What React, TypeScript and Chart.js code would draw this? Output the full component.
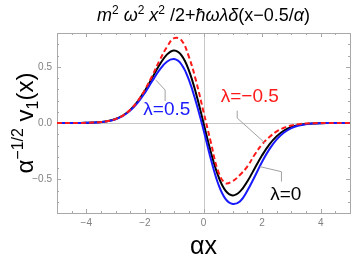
import React, { useEffect, useRef } from "react";
import { Chart, registerables } from "chart.js";
Chart.register(...registerables);

const xValues = [
  -5, -4.75, -4.5, -4.25, -4, -3.75, -3.5, -3.25, -3, -2.75, -2.5, -2.25, -2, -1.75, -1.5, -1.25, -1,
  -0.75, -0.5, -0.25, 0, 0.25, 0.5, 0.75, 1, 1.25, 1.5, 1.75, 2, 2.25, 2.5, 2.75, 3, 3.25, 3.5, 3.75,
  4, 4.25, 4.5, 4.75, 5,
];
// λ = 0
const valuesL0 = [
  0, 0.0001, 0.0002, 0.0005, 0.0014, 0.0035, 0.0081, 0.0175, 0.0354, 0.0666, 0.1167, 0.1902, 0.2875,
  0.402, 0.5172, 0.6079, 0.6443, 0.6014, 0.4687, 0.2574, 0, -0.2574, -0.4687, -0.6014, -0.6443,
  -0.6079, -0.5172, -0.402, -0.2875, -0.1902, -0.1167, -0.0666, -0.0354, -0.0175, -0.0081, -0.0035,
  -0.0014, -0.0005, -0.0002, -0.0001, 0,
];
// λ = 0.5
const valuesLpos = [
  0, 0.0001, 0.0002, 0.0005, 0.0013, 0.0033, 0.0077, 0.0166, 0.0335, 0.063, 0.11, 0.178, 0.268, 0.373,
  0.472, 0.545, 0.568, 0.52, 0.385, 0.18, -0.06, -0.32, -0.54, -0.675, -0.72, -0.695, -0.6, -0.475,
  -0.345, -0.232, -0.145, -0.085, -0.046, -0.023, -0.0105, -0.0045, -0.0017, -0.0006, -0.0002,
  -0.0001, 0,
];
// λ = −0.5
const valuesLneg = [
  0, 0.0001, 0.0002, 0.0005, 0.0014, 0.0035, 0.008, 0.0172, 0.035, 0.066, 0.117, 0.193, 0.295, 0.42,
  0.555, 0.675, 0.755, 0.735, 0.59, 0.37, 0.1, -0.17, -0.43, -0.535, -0.515, -0.46, -0.385, -0.28,
  -0.19, -0.125, -0.075, -0.042, -0.022, -0.01, -0.0045, -0.0018, -0.0006, -0.0002, -0.0001, 0, 0,
];

const xTickValues = [-4, -2, 0, 2, 4];
const xTickLabels = ["−4", "−2", "0", "2", "4"];
const yTickValues = [-0.5, 0, 0.5];
const yTickLabels = ["−0.5", "0.0", "0.5"];
const seriesLabels = ["λ=0", "λ=0.5", "λ=−0.5"];

const SANS = '"Liberation Sans", Arial, sans-serif';
const FRAME = "#a8a8a8";
const ZERO = "#c8c8c8";
const LEADER = "#a0a0a0";

type Seg = { t: string; it?: boolean; s?: "sup" | "sub" };

function drawRich(ctx: CanvasRenderingContext2D, segs: Seg[], size: number, x: number, y: number, color: string) {
  const fontFor = (seg: Seg) => `${seg.it ? "italic " : ""}${seg.s ? Math.round(size * 0.65) : size}px ${SANS}`;
  const widths = segs.map((seg) => {
    ctx.font = fontFor(seg);
    return ctx.measureText(seg.t).width;
  });
  const total = widths.reduce((a, b) => a + b, 0);
  let cx = x - total / 2;
  ctx.fillStyle = color;
  ctx.textAlign = "left";
  ctx.textBaseline = "alphabetic";
  segs.forEach((seg, i) => {
    ctx.font = fontFor(seg);
    const dy = seg.s === "sup" ? -size * 0.4 : seg.s === "sub" ? size * 0.22 : 0;
    ctx.fillText(seg.t, cx, y + dy);
    cx += widths[i];
  });
}

const titleSegs: Seg[] = [
  { t: "m", it: true }, { t: "2", s: "sup" }, { t: " " },
  { t: "ω", it: true }, { t: "2", s: "sup" }, { t: " " },
  { t: "x", it: true }, { t: "2", s: "sup" }, { t: " /2+" },
  { t: "ħωλδ", it: true }, { t: "(x−0.5/" }, { t: "α", it: true }, { t: ")" },
];
const yLabelSegs: Seg[] = [
  { t: "α" }, { t: "−1/2", s: "sup" }, { t: " v" }, { t: "1", s: "sub" }, { t: "(x)" },
];
const xLabelSegs: Seg[] = [{ t: "αx" }];

// annotation positions in data units
const annotations = [
  { text: seriesLabels[1], color: "#1a1aff", at: [-1.25, 0.115], leader: [[-1.31, 0.196], [-1.31, 0.293], [-1.62, 0.38]] },
  { text: seriesLabels[2], color: "#ff1a1a", at: [1.58, 0.231], leader: [[1.15, 0.11], [1.15, 0.044], [2.1, -0.178]] },
  { text: seriesLabels[0], color: "#000000", at: [2.81, -0.64], leader: [[2.66, -0.52], [2.66, -0.433], [1.93, -0.388]] },
];

const framePlugin = {
  id: "framePlugin",
  beforeDatasetsDraw(chart: any) {
    const { ctx, chartArea: a, scales } = chart;
    const xs = scales.x, ys = scales.y;
    ctx.save();
    ctx.lineWidth = 1;
    ctx.strokeStyle = ZERO;
    ctx.beginPath();
    const x0 = Math.round(xs.getPixelForValue(0)) + 0.5;
    const y0 = Math.round(ys.getPixelForValue(0)) + 0.5;
    ctx.moveTo(x0, a.top); ctx.lineTo(x0, a.bottom);
    ctx.moveTo(a.left, y0); ctx.lineTo(a.right, y0);
    ctx.stroke();
    ctx.strokeStyle = FRAME;
    ctx.strokeRect(Math.round(a.left) + 0.5, Math.round(a.top) + 0.5, Math.round(a.right - a.left), Math.round(a.bottom - a.top));
    ctx.beginPath();
    for (let i = -10; i <= 10; i++) {
      const v = i * 0.5;
      const major = i % 4 === 0;
      const len = major ? 4 : 2;
      const px = Math.round(xs.getPixelForValue(v)) + 0.5;
      ctx.moveTo(px, a.bottom); ctx.lineTo(px, a.bottom - len);
      ctx.moveTo(px, a.top); ctx.lineTo(px, a.top + len);
    }
    for (let i = -8; i <= 8; i++) {
      const v = i * 0.1;
      const major = i % 5 === 0;
      const len = major ? 4 : 2;
      const py = Math.round(ys.getPixelForValue(v)) + 0.5;
      ctx.moveTo(a.left, py); ctx.lineTo(a.left + len, py);
      ctx.moveTo(a.right, py); ctx.lineTo(a.right - len, py);
    }
    ctx.stroke();
    ctx.restore();
  },
  afterDatasetsDraw(chart: any) {
    const { ctx, scales } = chart;
    const xs = scales.x, ys = scales.y;
    ctx.save();
    ctx.strokeStyle = LEADER;
    ctx.lineWidth = 1;
    annotations.forEach((an) => {
      ctx.beginPath();
      an.leader.forEach((p, i) => {
        const px = xs.getPixelForValue(p[0]);
        const py = ys.getPixelForValue(p[1]);
        if (i === 0) ctx.moveTo(px, py); else ctx.lineTo(px, py);
      });
      ctx.stroke();
      ctx.font = `19px ${SANS}`;
      ctx.fillStyle = an.color;
      ctx.textAlign = "center";
      ctx.textBaseline = "middle";
      ctx.fillText(an.text, xs.getPixelForValue(an.at[0]), ys.getPixelForValue(an.at[1]));
    });
    ctx.restore();
  },
  afterDraw(chart: any) {
    const { ctx, chartArea: a } = chart;
    ctx.save();
    const cx = (a.left + a.right) / 2;
    drawRich(ctx, titleSegs, 18, cx, 21, "#000");
    drawRich(ctx, xLabelSegs, 25, cx, 254, "#000");
    ctx.translate(33, (a.top + a.bottom) / 2);
    ctx.rotate(-Math.PI / 2);
    drawRich(ctx, yLabelSegs, 24, 0, 0, "#000");
    ctx.restore();
  },
};

export default function App() {
  const ref = useRef<HTMLCanvasElement | null>(null);
  useEffect(() => {
    if (!ref.current) return;
    const mk = (vals: number[]) => xValues.map((x, i) => ({ x, y: vals[i] }));
    const chart = new Chart(ref.current, {
      type: "line",
      data: {
        datasets: [
          { label: seriesLabels[2], data: mk(valuesLneg), borderColor: "#ff1a1a", borderWidth: 2, borderDash: [5, 3], pointRadius: 0, tension: 0.4, fill: false, order: 0 },
          { label: seriesLabels[1], data: mk(valuesLpos), borderColor: "#1a1aff", borderWidth: 2, pointRadius: 0, tension: 0.4, fill: false, order: 1 },
          { label: seriesLabels[0], data: mk(valuesL0), borderColor: "#000000", borderWidth: 2, pointRadius: 0, tension: 0.4, fill: false, order: 2 },
        ],
      },
      options: {
        responsive: false,
        animation: false,
        devicePixelRatio: 1,
        layout: { padding: { top: 33, right: 4, left: 0, bottom: 0 } },
        plugins: { legend: { display: false }, title: { display: false }, tooltip: { enabled: false } },
        scales: {
          x: {
            type: "linear",
            min: -5,
            max: 5,
            grid: { display: false, drawTicks: false },
            border: { display: false },
            afterFit: (s: any) => { s.height = 47; },
            afterBuildTicks: (s: any) => { s.ticks = xTickValues.map((v) => ({ value: v })); },
            ticks: {
              padding: 4,
              color: "#808080",
              font: { size: 10, family: SANS },
              maxRotation: 0,
              autoSkip: false,
              callback: (v: any) => { const i = xTickValues.indexOf(Number(v)); return i >= 0 ? xTickLabels[i] : ""; },
            },
          },
          y: {
            type: "linear",
            min: -0.8,
            max: 0.8,
            grid: { display: false, drawTicks: false },
            border: { display: false },
            afterFit: (s: any) => { s.width = 57; },
            afterBuildTicks: (s: any) => { s.ticks = yTickValues.map((v) => ({ value: v })); },
            ticks: {
              padding: 5,
              color: "#808080",
              font: { size: 10, family: SANS },
              autoSkip: false,
              callback: (v: any) => { const i = yTickValues.indexOf(Number(v)); return i >= 0 ? yTickLabels[i] : ""; },
            },
          },
        },
      },
      plugins: [framePlugin],
    } as any);
    return () => chart.destroy();
  }, []);
  return (
    <div style={{ position: "fixed", left: 0, top: 0, width: 354, height: 260, background: "#fff" }}>
      <canvas ref={ref} width={354} height={260} style={{ width: 354, height: 260, display: "block" }} />
    </div>
  );
}
